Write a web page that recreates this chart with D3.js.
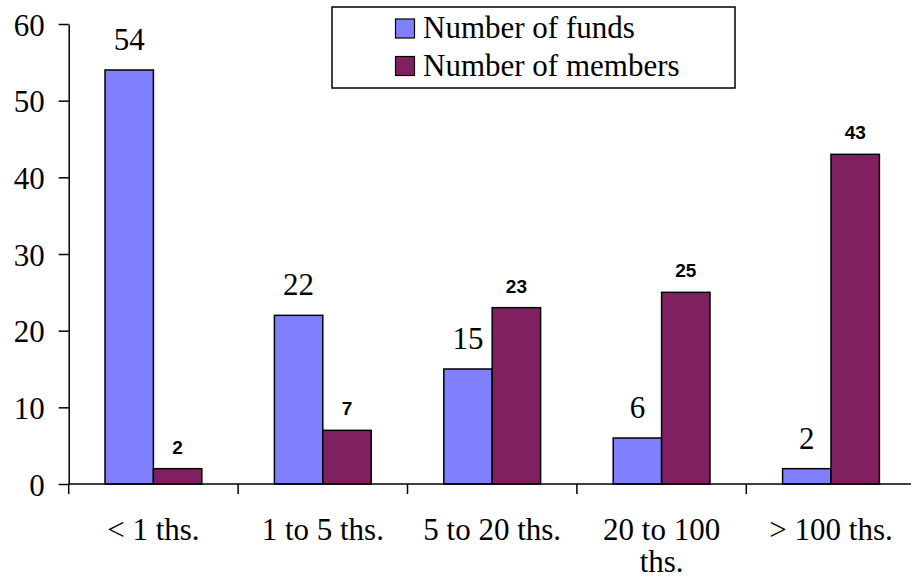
<!DOCTYPE html>
<html>
<head>
<meta charset="utf-8">
<script src="https://cdn.jsdelivr.net/npm/d3@7"></script>
<style>
  html, body { margin: 0; padding: 0; background: #fff; }
  svg { display: block; }
</style>
</head>
<body>
<svg id="chart" width="911" height="581"></svg>
<script>
// Fund size groups and the two series shown per group
const categories = ["< 1 ths.", "1 to 5 ths.", "5 to 20 ths.", "20 to 100 ths.", "> 100 ths."];
const fundsValues = [54, 22, 15, 6, 2];
const membersValues = [2, 7, 23, 25, 43];
const seriesNames = ["Number of funds", "Number of members"];
const yTicks = [0, 10, 20, 30, 40, 50, 60];

const colors = ["#8080ff", "#802060"];
const serif = "\"Times New Roman\", \"Liberation Serif\", Tinos, \"DejaVu Serif\", serif";
const sans = "Arial, \"Liberation Sans\", Arimo, sans-serif";
const bigFont = "31px";

const svg = d3.select("#chart");

const x0 = 68.7, bandW = 169.4;
const x = d3.scaleBand()
  .domain(categories)
  .range([x0, x0 + bandW * categories.length])
  .paddingInner(0)
  .paddingOuter(0);

// Two bars per group with a 150% gap between groups
const xSub = d3.scaleBand()
  .domain(seriesNames)
  .range([0, x.bandwidth()])
  .paddingOuter(0.75)
  .paddingInner(0);

const y = d3.scaleLinear().domain([0, 60]).range([484, 24]);

// Bars
const rows = categories.map((c, i) => ({ cat: c, vals: [fundsValues[i], membersValues[i]] }));

const groups = svg.append("g").selectAll("g")
  .data(rows).join("g")
  .attr("transform", d => `translate(${x(d.cat)},0)`);

groups.selectAll("rect")
  .data(d => d.vals.map((v, k) => ({ v, k })))
  .join("rect")
  .attr("x", d => xSub(seriesNames[d.k]))
  .attr("width", xSub.bandwidth())
  .attr("y", d => y(d.v))
  .attr("height", d => y(0) - y(d.v))
  .attr("fill", d => colors[d.k])
  .attr("stroke", "#000")
  .attr("stroke-width", 1.5);

// Value labels: serif for funds, bold sans for members
groups.selectAll("text.val")
  .data(d => d.vals.map((v, k) => ({ v, k })))
  .join("text")
  .attr("class", "val")
  .attr("x", d => xSub(seriesNames[d.k]) + xSub.bandwidth() / 2)
  .attr("y", d => y(d.v) - (d.k === 0 ? 20 : 15))
  .attr("text-anchor", "middle")
  .style("font-family", d => d.k === 0 ? serif : sans)
  .style("font-weight", d => d.k === 0 ? "normal" : "bold")
  .style("font-size", d => d.k === 0 ? bigFont : "19px")
  .attr("fill", "#000")
  .text(d => d.v);

// Y axis
const yAxis = svg.append("g")
  .attr("transform", `translate(${x0},0)`)
  .call(d3.axisLeft(y).tickValues(yTicks).tickSize(10).tickSizeOuter(0).tickPadding(14));
yAxis.attr("font-family", null).attr("font-size", null);
yAxis.select(".domain").attr("stroke", "#000").attr("stroke-width", 1.5);
yAxis.selectAll(".tick line").attr("stroke", "#000").attr("stroke-width", 1.5);
yAxis.selectAll(".tick text")
  .style("font-family", serif).style("font-size", bigFont).attr("fill", "#000")
  .attr("dy", "0.36em");

// X axis
const xAxisG = svg.append("g").attr("transform", `translate(0,${y(0)})`);
xAxisG.append("line")
  .attr("x1", x0).attr("x2", x0 + bandW * categories.length)
  .attr("stroke", "#000").attr("stroke-width", 1.5);
xAxisG.selectAll("line.tick")
  .data(categories.map(c => x(c)))
  .join("line").attr("class", "tick")
  .attr("x1", d => d).attr("x2", d => d)
  .attr("y1", 0).attr("y2", 10)
  .attr("stroke", "#000").attr("stroke-width", 1.5);

// Category labels, wrapped when wider than the band allows
const maxLabelW = 150;
xAxisG.selectAll("text.cat")
  .data(categories)
  .join("text").attr("class", "cat")
  .attr("x", d => x(d) + x.bandwidth() / 2)
  .attr("y", 56)
  .attr("text-anchor", "middle")
  .style("font-family", serif).style("font-size", bigFont).attr("fill", "#000")
  .each(function (d) {
    const t = d3.select(this);
    const cx = x(d) + x.bandwidth() / 2;
    const words = d.split(" ");
    let line = [];
    let tspan = t.append("tspan").attr("x", cx).attr("dy", 0);
    words.forEach(w => {
      line.push(w);
      tspan.text(line.join(" "));
      if (tspan.node().getComputedTextLength() > maxLabelW && line.length > 1) {
        line.pop();
        tspan.text(line.join(" "));
        line = [w];
        tspan = t.append("tspan").attr("x", cx).attr("dy", 32).text(w);
      }
    });
  });

// Legend
const legend = svg.append("g");
legend.append("rect")
  .attr("x", 332).attr("y", 7).attr("width", 403).attr("height", 81)
  .attr("fill", "#fff").attr("stroke", "#000").attr("stroke-width", 1.5);
const items = legend.selectAll("g.item")
  .data(seriesNames)
  .join("g").attr("class", "item")
  .attr("transform", (d, i) => `translate(395.5,${19 + i * 37.5})`);
items.append("rect")
  .attr("width", 19).attr("height", 19)
  .attr("fill", (d, i) => colors[i])
  .attr("stroke", "#000").attr("stroke-width", 1.2);
items.append("text")
  .attr("x", 27.5).attr("y", 19)
  .style("font-family", serif).style("font-size", bigFont).attr("fill", "#000")
  .text(d => d);
</script>
</body>
</html>
